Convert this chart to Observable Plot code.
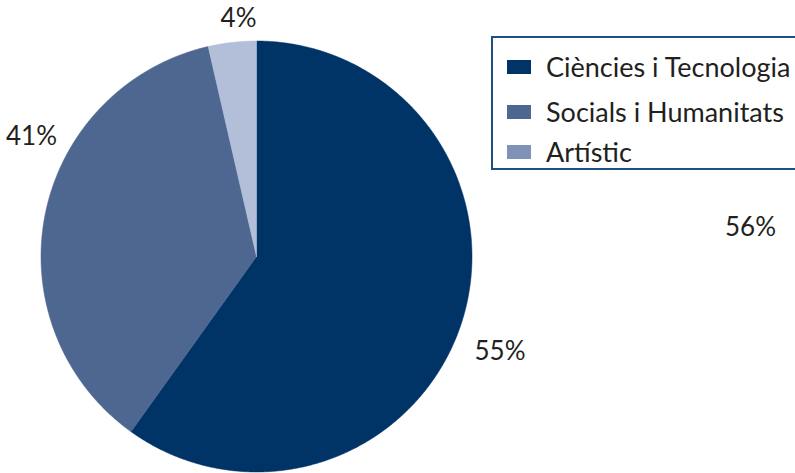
<!DOCTYPE html>
<html>
<head>
<meta charset="utf-8">
<script src="https://cdn.jsdelivr.net/npm/d3@7"></script>
<script src="https://cdn.jsdelivr.net/npm/@observablehq/plot@0.6"></script>
<style>
  html, body { margin: 0; padding: 0; background: #fff; }
  #wrap { position: relative; width: 795px; height: 473px; overflow: hidden; font-family: Lato, "Noto Sans", sans-serif; }
  #legend { position: absolute; left: 491px; top: 36px; width: 320px; height: 134px; border: 2px solid #1f4e82; box-sizing: border-box; background: #fff; }
  .item { position: absolute; left: 14px; height: 32px; line-height: 32px; display: flex; align-items: center; font-size: 27px; color: #231f20; white-space: nowrap; }
  .sw { width: 24px; height: 14px; margin-right: 15px; flex: none; }
</style>
</head>
<body>
<div id="wrap"></div>
<script>
// Data
const categories = ["Ciències i Tecnologia", "Socials i Humanitats", "Artístic"];
const sliceValues = [59.9, 36.5, 3.6];           // slice sizes as drawn
const sliceColors = ["#003366", "#4d6791", "#b3bfd9"];
const legendColors = ["#003366", "#4d6791", "#7f93b9"];
const labelTexts = ["55%", "41%", "4%", "56%"];
const labelAngles = [111.1, 298.3, -4.3, 86.6];   // degrees clockwise from top
const labelRadii = [261, 255.5, 239.7, 494.9];

const R = 215.5;
const arcs = d3.pie().sort(null).value(d => d)(sliceValues);
const pts = [];
arcs.forEach((a, i) => {
  pts.push({cat: categories[i], x: 0, y: 0});
  const n = Math.max(4, Math.ceil((a.endAngle - a.startAngle) / 0.005));
  for (let k = 0; k <= n; k++) {
    const t = a.startAngle + (a.endAngle - a.startAngle) * k / n;
    pts.push({cat: categories[i], x: R * Math.sin(t), y: R * Math.cos(t)});
  }
  pts.push({cat: categories[i], x: 0, y: 0});
});
const labels = labelTexts.map((t, i) => {
  const a = labelAngles[i] * Math.PI / 180;
  return {text: t, x: labelRadii[i] * Math.sin(a), y: labelRadii[i] * Math.cos(a)};
});

const chart = Plot.plot({
  width: 795, height: 473,
  margin: 0,
  x: {domain: [-256, 539], range: [0, 795], axis: null},
  y: {domain: [-217, 256], range: [473, 0], axis: null},
  color: {domain: categories, range: sliceColors},
  style: {fontFamily: "Lato, 'Noto Sans', sans-serif", background: "#fff"},
  marks: [
    Plot.line(pts, {x: "x", y: "y", z: "cat", fill: "cat", stroke: "cat", strokeWidth: 0.5, curve: "linear"}),
    Plot.text(labels, {x: "x", y: "y", text: "text", fontSize: 26, fill: "#231f20", textAnchor: "middle", dy: 1})
  ]
});
const wrap = document.getElementById("wrap");
chart.style.position = "absolute";
chart.style.left = "0"; chart.style.top = "0";
wrap.appendChild(chart);

const legend = document.createElement("div");
legend.id = "legend";
const tops = [13, 58, 98];
categories.forEach((c, i) => {
  const it = document.createElement("div");
  it.className = "item";
  it.style.top = tops[i] + "px";
  const sw = document.createElement("div");
  sw.className = "sw";
  sw.style.background = legendColors[i];
  const tx = document.createElement("span");
  tx.textContent = c;
  it.appendChild(sw); it.appendChild(tx);
  legend.appendChild(it);
});
wrap.appendChild(legend);
</script>
</body>
</html>
